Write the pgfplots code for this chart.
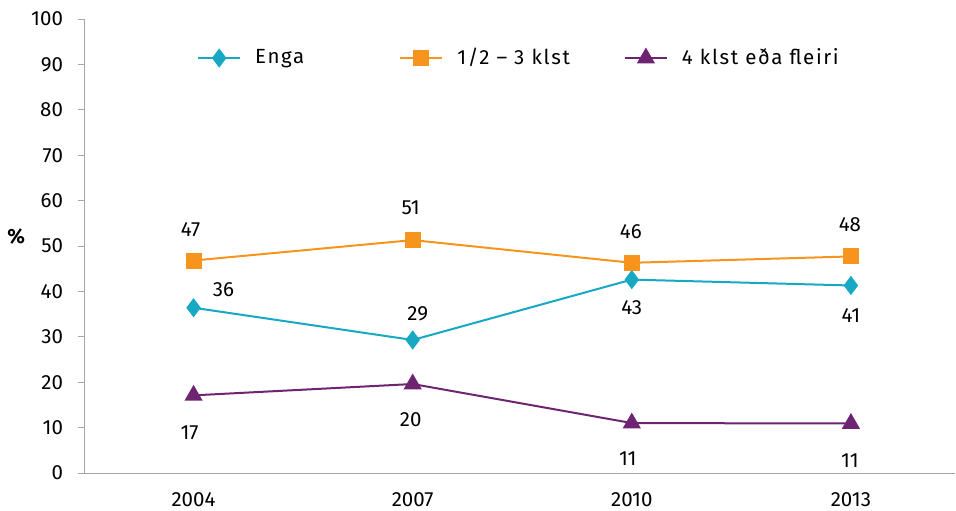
\documentclass[border=0pt]{standalone}
\usepackage{pgfplots}
\usepackage{pgfplotstable}
\pgfplotsset{compat=1.18}
\usepackage{fontspec}
\setmainfont{Fira Sans}
\newfontfamily\legfont{Fira Sans}[LetterSpace=8]
\definecolor{cteal}{HTML}{17A8C4}
\definecolor{corange}{HTML}{F7941D}
\definecolor{cpurple}{HTML}{6E2470}
\definecolor{cgrid}{HTML}{A6A6A6}
\pgfplotstableread{
x y dx dy lab
0 36.4 30 18 36
1 29.3 5 26 29
2 42.6 0 -28 43
3 41.3 0 -30 41
}\enga
\pgfplotstableread{
x y dx dy lab
0 46.8 -3 31 47
1 51.3 -2 32 51
2 46.3 -1 31 46
3 47.7 -1 32 48
}\half
\pgfplotstableread{
x y dx dy lab
0 17.1 -4 -37 17
1 19.6 -2 -36 20
2 11.0 -4 -36 11
3 10.9 -1 -37 11
}\four
\begin{document}
\fontsize{20.5}{24}\selectfont
\begin{tikzpicture}
\begin{axis}[
  at={(0,0)}, anchor=south west,
  scale only axis, width=871pt, height=454pt,
  xmin=-0.5, xmax=3.475, ymin=0, ymax=100,
  axis x line*=bottom, axis y line*=left,
  axis line style={-, draw=cgrid, line width=0.8pt},
  ytick={0,10,...,100},
  xtick={0,1,2,3}, xticklabels={2004,2007,2010,2013},
  x tick style={draw=none},
  extra x ticks={-0.5,0.5,1.5,2.5},
  extra x tick labels={},
  extra x tick style={tick style={draw=cgrid, line width=0.8pt}, major tick length=6pt},
  y tick style={draw=cgrid, line width=0.8pt},
  tick align=outside, major tick length=6pt,
  /pgf/number format/assume math mode=true,
  tick label style={font=\fontsize{20.5}{24}\selectfont},
  x tick label style={yshift=-7pt},
  y tick label style={xshift=-8pt},
  ylabel={\textbf{\%}},
  ylabel style={at={(axis description cs:-0.078,0.52)}, anchor=center, rotate=-90},
  legend columns=3,
  legend style={at={(axis description cs:0.1297,0.914)}, anchor=west, draw=none, fill=none, inner sep=0pt,
    font=\fontsize{20.5}{24}\selectfont\legfont,
    /tikz/every odd column/.append style={column sep=12pt},
    /tikz/every even column/.append style={column sep=52pt}},
  legend image code/.code={\draw[mark repeat=2,mark phase=2] plot coordinates {(0pt,0pt) (21pt,0pt) (42pt,0pt)};},
  nodes near coords={\pgfplotspointmeta},
  point meta=explicit symbolic,
  visualization depends on={\thisrow{dx} \as \dx},
  visualization depends on={\thisrow{dy} \as \dy},
  every node near coord/.append style={anchor=center, xshift=\dx pt, yshift=\dy pt, text=black, font=\fontsize{20.5}{24}\selectfont},
]
\addplot[color=cteal, line width=2pt, mark=diamond*, mark size=8pt, mark options={solid}] table[x=x, y=y, meta=lab] {\enga};
\addlegendentry{Enga\rule{41pt}{0pt}}
\addplot[color=corange, line width=2pt, mark=square*, mark size=7pt] table[x=x, y=y, meta=lab] {\half};
\addlegendentry{1/2 – 3 klst}
\addplot[color=cpurple, line width=2pt, mark=triangle*, mark size=8.5pt] table[x=x, y=y, meta=lab] {\four};
\addlegendentry{4 klst eða fleiri}
\end{axis}
\pgfresetboundingbox
\path (-84pt,-38pt) rectangle (872pt,473pt);
\end{tikzpicture}
\end{document}
